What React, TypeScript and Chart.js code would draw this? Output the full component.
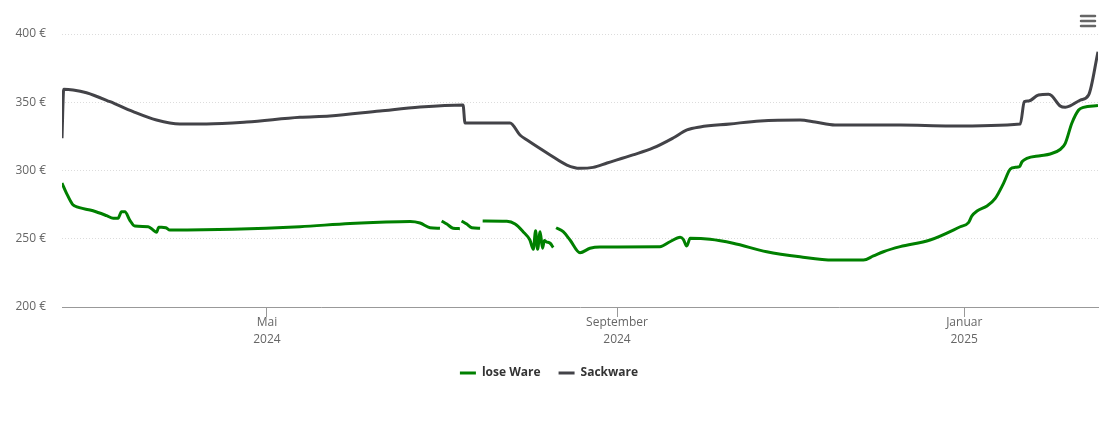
import React, { useEffect, useRef } from 'react';
import { Chart, registerables } from 'chart.js';
Chart.register(...registerables);

// x values: days since 1 May 2024
const xMin = -72;
const xMax = 292;
const xTickDays = [0, 123, 245];
const xTickLabels = [['Mai', '2024'], ['September', '2024'], ['Januar', '2025']];

const seriesNames = ['lose Ware', 'Sackware'];
const seriesColors = ['#008000', '#434348'];

const looseDays = [-72, -70.4, -68.3, -67.5, -61.1, -56.3, -54.0, -52.3, -51.1, -49.9, -48.2, -46.4, -41.7, -40.0, -38.8, -38.0, -37.0, -35.5, -34.1, -12.0, 11.6, 29.2, 46.7, 50.3, 53.8, 57.3, 60.8, 61.1,
  61.4, 63.2, 65.4, 67.8, 68.1,
  68.4, 70.2, 72.0, 74.9, 75.3,
  75.8, 84.3, 87.2, 90.0, 92.4, 93.6, 94.4, 95.1, 96.0, 96.8, 97.5, 98.1, 99.5, 100.6, 101.1,
  101.6, 104.1, 106.5, 110.0, 113.5, 117.0, 138.1, 141.6, 145.2, 146.3, 147.5, 148.7, 155.7, 163.8, 175.6, 187.3, 198.9, 209.6, 213.1, 216.6, 222.5, 233.0, 243.6, 246.5, 247.7, 249.5, 253.0, 255.9, 258.8, 261.2, 262.9, 264.4, 265.3, 267.0, 271.7, 275.2, 278.7, 280.5, 282.8, 285.2, 286.9, 292];
const loosePrices = [290.8, 283.3, 275.2, 274.0, 270.5, 266.9, 265.0, 265.0, 269.8, 269.8, 263.7, 259.3, 258.8, 256.4, 254.7, 258.4, 258.4, 258.1, 256.4, 256.9, 258.8, 261.2, 262.5, 262.6, 261.5, 258.1, 257.7, null,
  263.0, 260.8, 257.7, 257.4, null,
  263.0, 260.8, 258.1, 257.7, null,
  263.0, 262.8, 260.8, 255.2, 249.1, 242.3, 255.9, 242.3, 255.2, 243.0, 248.7, 247.8, 246.7, 243.6, null,
  258.1, 255.2, 249.1, 239.8, 243.0, 244.0, 244.2, 247.8, 251.1, 249.6, 244.7, 250.3, 249.6, 246.7, 240.5, 236.8, 234.4, 234.4, 237.4, 240.5, 244.2, 249.1, 258.8, 261.8, 266.7, 270.3, 274.0, 279.6, 290.6, 301.1, 302.3, 302.8, 306.4, 308.9, 310.8, 312.1, 315.4, 319.9, 334.6, 344.3, 346.3, 347.6];

const sackDays = [-72, -71.4, -68.1, -63.4, -55.1, -47.0, -38.8, -30.6, -21.2, -7.1, 11.6, 22.1, 39.7, 53.8, 68.9, 69.6, 85.4, 88.9, 91.4, 99.5, 105.4, 110.0, 114.6, 119.5, 128.6, 135.7, 142.7, 147.6, 152.2, 162.7, 173.3, 187.3, 192.6, 199.6, 222.5, 240.1, 264.7, 266.1, 267.6, 271.1, 274.6, 275.8, 278.7, 280.5, 282.2, 285.8, 288.7, 292];
const sackPrices = [323.6, 359.5, 359.0, 357.0, 350.4, 343.1, 337.0, 334.1, 334.1, 335.5, 339.0, 339.9, 343.6, 346.5, 348.0, 334.8, 334.8, 326.0, 322.3, 311.4, 304.0, 301.6, 302.3, 305.5, 311.4, 316.5, 323.8, 329.7, 331.9, 334.1, 336.3, 337.0, 335.5, 333.3, 333.3, 332.6, 334.1, 350.4, 350.9, 355.3, 355.8, 354.6, 347.3, 346.3, 347.3, 351.6, 355.3, 387.0];

const yMin = 200;
const yMax = 400;
const yStep = 50;

const FONT = '"Open Sans", "Noto Sans", sans-serif';

function toPoints(days: number[], prices: (number | null)[]) {
  return days.map((d, i) => ({ x: d, y: prices[i] }));
}

const menuPlugin = {
  id: 'menuIcon',
  afterDraw(chart: any) {
    const ctx = chart.ctx;
    ctx.save();
    ctx.strokeStyle = '#666';
    ctx.lineWidth = 2.5;
    ctx.lineCap = 'round';
    [16, 21, 26].forEach((y) => {
      ctx.beginPath();
      ctx.moveTo(1081, y);
      ctx.lineTo(1095, y);
      ctx.stroke();
    });
    ctx.restore();
  },
};

export default function App() {
  const ref = useRef<HTMLCanvasElement>(null);
  useEffect(() => {
    document.body.style.margin = '0';
    const chart = new Chart(ref.current!, {
      type: 'line',
      data: {
        datasets: [
          {
            label: seriesNames[0],
            data: toPoints(looseDays, loosePrices) as any,
            borderColor: seriesColors[0],
            backgroundColor: seriesColors[0],
            borderWidth: 3,
            pointRadius: 0,
            cubicInterpolationMode: 'monotone',
            spanGaps: false,
          },
          {
            label: seriesNames[1],
            data: toPoints(sackDays, sackPrices) as any,
            borderColor: seriesColors[1],
            backgroundColor: seriesColors[1],
            borderWidth: 3,
            pointRadius: 0,
            cubicInterpolationMode: 'monotone',
          },
        ],
      },
      options: {
        animation: false,
        responsive: true,
        maintainAspectRatio: false,
        layout: { padding: { top: 34, right: 12, bottom: 33, left: 0 } },
        plugins: {
          tooltip: { enabled: false },
          legend: {
            position: 'bottom',
            labels: {
              usePointStyle: true,
              pointStyle: 'line',
              pointStyleWidth: 16,
              padding: 18,
              color: '#333',
              font: { family: FONT, size: 12, weight: 'bold' },
            },
          },
        },
        scales: {
          x: {
            type: 'linear',
            min: xMin,
            max: xMax,
            afterBuildTicks: (scale: any) => {
              scale.ticks = xTickDays.map((v) => ({ value: v }));
            },
            afterFit: (scale: any) => {
              scale.height = 42;
            },
            ticks: {
              autoSkip: false,
              maxRotation: 0,
              padding: -2,
              color: '#666',
              font: { family: FONT, size: 12, lineHeight: 1.34 },
              callback: (v: any) => {
                const i = xTickDays.indexOf(Number(v));
                return i >= 0 ? xTickLabels[i] : '';
              },
            },
            grid: { drawOnChartArea: false, drawTicks: true, tickLength: 10, color: '#999' },
            border: { display: true, color: '#999', width: 1 },
          },
          y: {
            min: yMin,
            max: yMax,
            afterFit: (scale: any) => {
              scale.width = 62;
            },
            ticks: {
              stepSize: yStep,
              padding: 16,
              color: '#666',
              font: { family: FONT, size: 12 },
              callback: (v: any) => v + ' €',
            },
            grid: {
              drawTicks: false,
              color: (c: any) => (c.tick && c.tick.value === yMin ? 'rgba(0,0,0,0)' : '#dcdcdc'),
            },
            border: { display: false, dash: [1, 2] },
          },
        },
      },
      plugins: [menuPlugin],
    });
    return () => chart.destroy();
  }, []);
  return (
    <div style={{ width: 1110, height: 422, position: 'relative' }}>
      <canvas ref={ref} />
    </div>
  );
}
